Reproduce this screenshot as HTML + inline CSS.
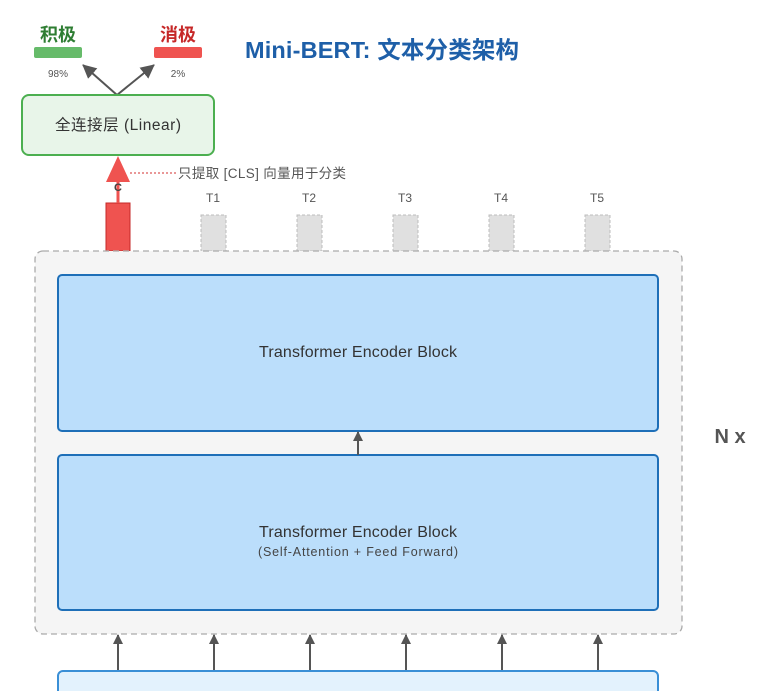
<!DOCTYPE html>
<html><head><meta charset="utf-8"><style>
html,body{margin:0;padding:0;background:#fff;}
svg{display:block;font-family:"Liberation Sans","Noto Sans CJK SC",sans-serif;}
</style></head><body>
<svg width="772" height="691" viewBox="0 0 772 691" xmlns="http://www.w3.org/2000/svg">
<defs>
<marker id="ag" markerWidth="10" markerHeight="10" refX="9" refY="5" orient="auto" markerUnits="userSpaceOnUse"><path d="M0,0 L10,5 L0,10 z" fill="#555"/></marker>
<marker id="ag2" markerWidth="14" markerHeight="14" refX="13" refY="7" orient="auto" markerUnits="userSpaceOnUse"><path d="M0,0 L14,7 L0,14 z" fill="#555"/></marker>
</defs>
<text x="245" y="58" font-size="23.5" font-weight="bold" fill="#1e5fa8" textLength="274">Mini-BERT: 文本分类架构</text>
<text x="58" y="41" font-size="18" font-weight="bold" fill="#2e7d32" text-anchor="middle">积极</text>
<rect x="34" y="47" width="48" height="11" rx="2" fill="#66bb6a"/>
<text x="58" y="77" font-size="10" fill="#555" text-anchor="middle">98%</text>
<text x="178" y="41" font-size="18" font-weight="bold" fill="#c62828" text-anchor="middle">消极</text>
<rect x="154" y="47" width="48" height="11" rx="2" fill="#ef5350"/>
<text x="178" y="77" font-size="10" fill="#555" text-anchor="middle">2%</text>
<line x1="117" y1="95" x2="83" y2="65" stroke="#555" stroke-width="2" marker-end="url(#ag2)"/>
<line x1="117" y1="95" x2="154" y2="65" stroke="#555" stroke-width="2" marker-end="url(#ag2)"/>
<rect x="22" y="95" width="192" height="60" rx="7" fill="#e8f5e9" stroke="#4caf50" stroke-width="2"/>
<text x="118" y="130" font-size="15.5" fill="#333" text-anchor="middle" textLength="126">全连接层 (Linear)</text>
<rect x="106" y="203" width="24" height="48" fill="#ef5350" stroke="#c62828" stroke-width="1"/>
<line x1="118" y1="203" x2="118" y2="178" stroke="#ef5350" stroke-width="3"/>
<path d="M106,182 L118,156 L130,182 z" fill="#ef5350"/>
<text x="118" y="191" font-size="11" font-weight="bold" fill="#444" text-anchor="middle">C</text>
<line x1="130" y1="173" x2="178" y2="173" stroke="#d32f2f" stroke-width="1" stroke-dasharray="2,2"/>
<text x="178" y="178" font-size="13.5" fill="#555" textLength="168">只提取 [CLS] 向量用于分类</text>
<g font-size="12" fill="#555" text-anchor="middle">
<text x="213" y="202">T1</text><text x="309" y="202">T2</text><text x="405" y="202">T3</text><text x="501" y="202">T4</text><text x="597" y="202">T5</text>
</g>
<g fill="#e0e0e0" stroke="#bdbdbd" stroke-dasharray="3,2">
<rect x="201" y="215" width="25" height="36"/><rect x="297" y="215" width="25" height="36"/><rect x="393" y="215" width="25" height="36"/><rect x="489" y="215" width="25" height="36"/><rect x="585" y="215" width="25" height="36"/>
</g>
<rect x="35" y="251" width="647" height="383" rx="8" fill="#f5f5f5" stroke="#aaa" stroke-width="1.3" stroke-dasharray="6,4"/>
<rect x="58" y="275" width="600" height="156" rx="4" fill="#bbdefb" stroke="#1e6fb8" stroke-width="2"/>
<text x="358" y="357" font-size="16" fill="#333" text-anchor="middle" textLength="198">Transformer Encoder Block</text>
<rect x="58" y="455" width="600" height="155" rx="4" fill="#bbdefb" stroke="#1e6fb8" stroke-width="2"/>
<text x="358" y="537" font-size="16" fill="#333" text-anchor="middle" textLength="198">Transformer Encoder Block</text>
<text x="358" y="556" font-size="12.5" fill="#444" text-anchor="middle" textLength="200">(Self-Attention + Feed Forward)</text>
<line x1="358" y1="455" x2="358" y2="432" stroke="#555" stroke-width="2" marker-end="url(#ag)"/>
<text x="730" y="443" font-size="20" font-weight="bold" fill="#555" text-anchor="middle">N x</text>
<g stroke="#555" stroke-width="2" marker-end="url(#ag)">
<line x1="118" y1="671" x2="118" y2="635"/><line x1="214" y1="671" x2="214" y2="635"/><line x1="310" y1="671" x2="310" y2="635"/><line x1="406" y1="671" x2="406" y2="635"/><line x1="502" y1="671" x2="502" y2="635"/><line x1="598" y1="671" x2="598" y2="635"/>
</g>
<rect x="58" y="671" width="600" height="40" rx="5" fill="#e3f2fd" stroke="#3a8fd6" stroke-width="2"/>
</svg>
</body></html>
